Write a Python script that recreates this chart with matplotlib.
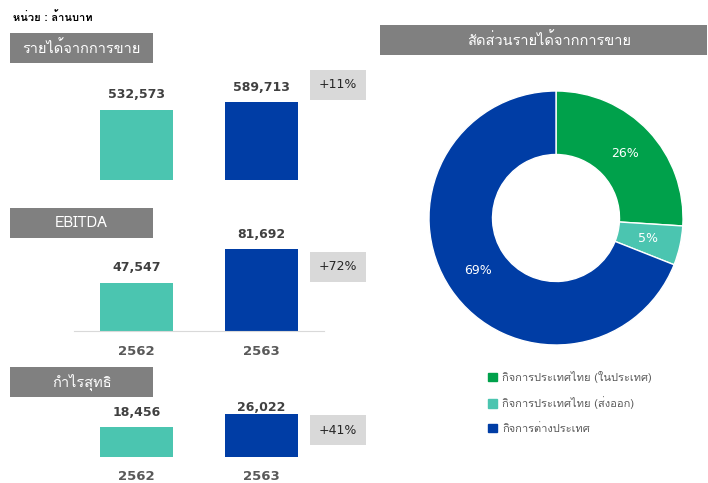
import matplotlib
matplotlib.use('Agg')
from matplotlib import pyplot as plt
from matplotlib import font_manager
from matplotlib.ft2font import FT2Font
from matplotlib.patches import Rectangle, Patch

# หา font ที่มีอักษรไทย
thai_font = None
for f in font_manager.fontManager.ttflist:
    try:
        if FT2Font(f.fname).get_char_index(ord('ก')) != 0:
            thai_font = f.name
            break
    except Exception:
        pass
fams = ['DejaVu Sans']
if thai_font:
    fams = [thai_font, 'DejaVu Sans']
plt.rcParams['font.family'] = fams

# ข้อมูล
years = ['2562', '2563']
revenue = [532573, 589713]
ebitda = [47547, 81692]
net_profit = [18456, 26022]
growth = ['+11%', '+72%', '+41%']
panel_titles = ['รายได้จากการขาย', 'EBITDA', 'กำไรสุทธิ']
unit_text = 'หน่วย : ล้านบาท'

pie_title = 'สัดส่วนรายได้จากการขาย'
pie_labels = ['กิจการประเทศไทย (ในประเทศ)', 'กิจการประเทศไทย (ส่งออก)', 'กิจการต่างประเทศ']
pie_share = [26, 5, 69]

c_old = '#4BC5B0'
c_new = '#003DA5'
pie_colors = ['#00A14B', '#4BC5B0', '#003DA5']
grey_box = '#808080'
light_box = '#D9D9D9'

W, H = 708, 483
fig = plt.figure(figsize=(W / 100, H / 100), dpi=100)

# แกนพื้นหลัง หน่วยเป็น pixel
bg = fig.add_axes([0, 0, 1, 1])
bg.set_xlim(0, W)
bg.set_ylim(H, 0)
bg.axis('off')

bg.text(13, 17, unit_text, fontsize=8, fontweight='bold', color='black', va='center')

title_boxes = [(10, 33), (10, 208), (10, 367)]
for (x, y), t in zip(title_boxes, panel_titles):
    bg.add_patch(Rectangle((x, y), 143, 30, color=grey_box, lw=0))
    bg.text(x + 71.5, y + 15, t, color='white', fontsize=10.5, ha='center', va='center')

growth_boxes = [(310, 70), (310, 252), (310, 415)]
for (x, y), t in zip(growth_boxes, growth):
    bg.add_patch(Rectangle((x, y), 56, 30, color=light_box, lw=0))
    bg.text(x + 28, y + 15, t, color='#262626', fontsize=9, ha='center', va='center',
            family='DejaVu Sans')

bg.add_patch(Rectangle((380, 25), 327, 30, color=grey_box, lw=0))
bg.text(549, 40, pie_title, color='white', fontsize=10.5, ha='center', va='center')

# กราฟแท่ง: (ข้อมูล, baseline px, สูง px, ymax, offset ป้าย, แสดงปี, แสดงเส้นฐาน)
panels = [
    (revenue, 180, 120, 910500, [11, 11], False, False),
    (ebitda, 331, 100, 99400, [11, 10], True, True),
    (net_profit, 457, 50, 30490, [10, 5], True, False),
]
for vals, base, h, ymax, offs, show_years, show_base in panels:
    ax = fig.add_axes([74 / W, 1 - base / H, 250 / W, h / H])
    ax.set_facecolor('none')
    ax.bar([0, 1], vals, width=0.59, color=[c_old, c_new])
    ax.set_xlim(-0.5, 1.5)
    ax.set_ylim(0, ymax)
    for i, v in enumerate(vals):
        ax.annotate(f'{v:,}', (i, v), xytext=(0, offs[i]), textcoords='offset points',
                    ha='center', va='center', fontsize=9, fontweight='bold',
                    color='#404040', family='DejaVu Sans')
    for s in ['top', 'left', 'right']:
        ax.spines[s].set_visible(False)
    ax.spines['bottom'].set_visible(show_base)
    ax.spines['bottom'].set_color('#D9D9D9')
    ax.set_yticks([])
    if show_years:
        ax.set_xticks([0, 1], years)
        ax.tick_params(axis='x', length=0, pad=9 if base > 400 else 10)
        for lab in ax.get_xticklabels():
            lab.set_fontsize(9.5)
            lab.set_fontweight('bold')
            lab.set_color('#595959')
            lab.set_family('DejaVu Sans')
    else:
        ax.set_xticks([])

# โดนัท
r = 127
pax = fig.add_axes([(556 - r) / W, 1 - (218 + r) / H, 2 * r / W, 2 * r / H])
pax.set_facecolor('none')
wedges, _, autotexts = pax.pie(pie_share, colors=pie_colors, startangle=90, counterclock=False,
                               autopct='%d%%', pctdistance=0.74, radius=1,
                               wedgeprops=dict(width=0.5, edgecolor='white', linewidth=1))
for t in autotexts:
    t.set_color('white')
    t.set_fontsize(9)
    t.set_family('DejaVu Sans')
pax.set_xlim(-1, 1)
pax.set_ylim(-1, 1)
pax.set_aspect('equal')

handles = [Patch(color=c) for c in pie_colors]
fig.legend(handles, pie_labels, loc='upper left', bbox_to_anchor=(488 / W, 1 - 371 / H),
           frameon=False, fontsize=8, labelcolor='#595959', handlelength=0.8, handleheight=0.8,
           handletextpad=0.5, labelspacing=1.2, borderpad=0, borderaxespad=0)

fig.savefig('out.png', dpi=100)
